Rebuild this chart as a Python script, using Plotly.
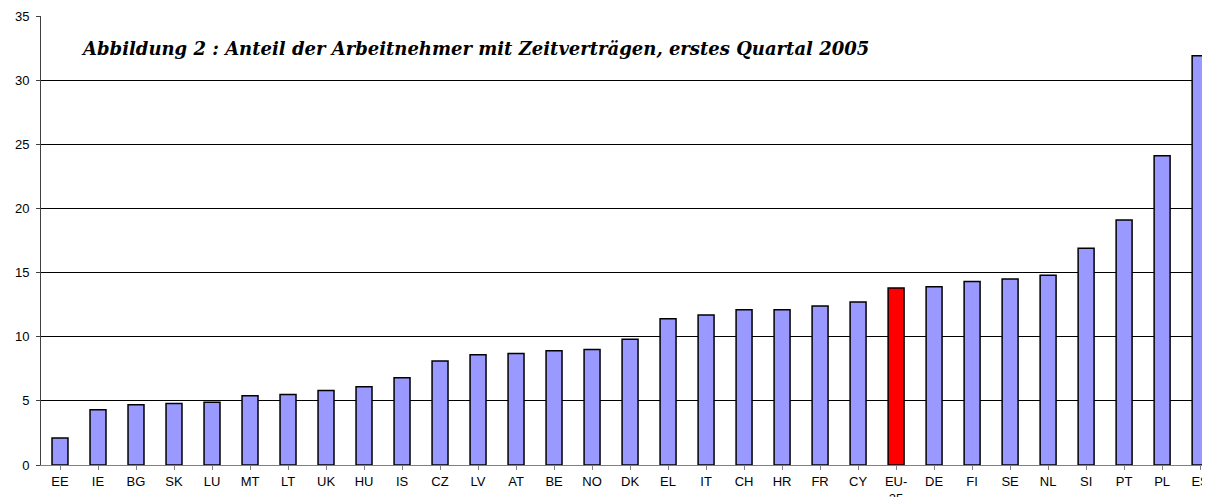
import plotly.graph_objects as go

countries = ["EE", "IE", "BG", "SK", "LU", "MT", "LT", "UK", "HU", "IS", "CZ", "LV", "AT", "BE", "NO",
             "DK", "EL", "IT", "CH", "HR", "FR", "CY", "EU-<br>25", "DE", "FI", "SE", "NL", "SI", "PT", "PL", "ES"]
values = [2.1, 4.3, 4.7, 4.8, 4.9, 5.4, 5.5, 5.8, 6.1, 6.8, 8.1, 8.6, 8.7, 8.9, 9.0,
          9.8, 11.4, 11.7, 12.1, 12.1, 12.4, 12.7, 13.8, 13.9, 14.3, 14.5, 14.8, 16.9, 19.1, 24.1, 31.9]
highlight = "EU-<br>25"
y_ticks = [0, 5, 10, 15, 20, 25, 30, 35]
title_text = "Abbildung 2 : Anteil der Arbeitnehmer mit Zeitverträgen, erstes Quartal 2005"

colors = ["#FF0000" if c == highlight else "#9999FF" for c in countries]
xs = list(range(len(countries)))

fig = go.Figure(go.Bar(
    x=xs, y=values, width=0.42,
    marker=dict(color=colors, line=dict(color="#000000", width=1.5)),
    hoverinfo="skip",
))

fig.update_layout(
    width=1202, height=489,
    margin=dict(l=33, r=0, t=8, b=32),
    paper_bgcolor="white", plot_bgcolor="white",
    showlegend=False,
    font=dict(family="Liberation Sans, Arial, sans-serif", size=13, color="#000000"),
    annotations=[dict(
        text="<b><i>" + title_text + "</i></b>",
        xref="paper", yref="y", x=(79 - 41) / 1169, y=32.45,
        xanchor="left", yanchor="middle", showarrow=False,
        font=dict(family="DejaVu Serif, serif", size=18, color="#000000"),
    )],
)

fig.update_xaxes(
    range=[-0.5, 30.26], automargin=False,
    tickmode="array", tickvals=xs, ticktext=countries,
    tickson="boundaries", ticks="outside", ticklen=4, tickcolor="#808080",
    showline=True, linecolor="#808080", linewidth=1,
    showgrid=False, zeroline=False, tickangle=0,
    tickfont=dict(size=13), ticklabelstandoff=0,
)
fig.update_yaxes(
    range=[0, 35], tickvals=y_ticks, automargin=False,
    ticks="outside", ticklen=4, tickcolor="#404040",
    showline=True, linecolor="#404040", linewidth=1,
    showgrid=True, gridcolor="#000000", gridwidth=1,
    zeroline=False,
    tickfont=dict(size=13), ticklabelstandoff=4,
)

fig.write_html("out.html")
